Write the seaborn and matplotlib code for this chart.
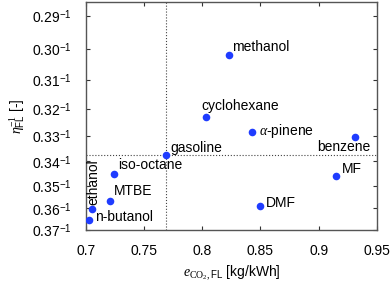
# Fuel efficiency vs CO2 emission scatter
import matplotlib
matplotlib.use("Agg")
import matplotlib.pyplot as plt
import seaborn as sns
import pandas as pd

# data
fuels = ["methanol", "cyclohexane", r"$\alpha$-pinene", "benzene", "gasoline",
         "iso-octane", "ethanol", "MTBE", "n-butanol", "MF", "DMF"]
co2_fl = [0.823, 0.803, 0.843, 0.931, 0.769, 0.724, 0.705, 0.721, 0.703, 0.915, 0.850]
eta_fl = [0.302, 0.323, 0.3285, 0.3305, 0.3375, 0.345, 0.3604, 0.3568, 0.3652, 0.346, 0.359]
eta_ticks = [0.29, 0.30, 0.31, 0.32, 0.33, 0.34, 0.35, 0.36, 0.37]
x_ticks = [0.7, 0.75, 0.8, 0.85, 0.9, 0.95]
x_tick_labels = ["0.7", "0.75", "0.8", "0.85", "0.9", "0.95"]

df = pd.DataFrame({"fuel": fuels, "co2": co2_fl, "eta": eta_fl})
df["inv_eta"] = 1.0 / df["eta"]

# label placement: (dx, dy) in points, ha, va, rotation
label_style = {
    "methanol": ((2, 1), "left", "bottom", 0),
    "cyclohexane": ((-3, 3), "left", "bottom", 0),
    r"$\alpha$-pinene": ((5, 1), "left", "center", 0),
    "benzene": ((11, -2), "right", "top", 0),
    "gasoline": ((3, 0), "left", "bottom", 0),
    "iso-octane": ((3, 1), "left", "bottom", 0),
    "ethanol": ((1, 3), "center", "bottom", 90),
    "MTBE": ((3, 2), "left", "bottom", 0),
    "n-butanol": ((4, 2), "left", "center", 0),
    "MF": ((4, 0), "left", "bottom", 0),
    "DMF": ((4, 2), "left", "center", 0),
}

sns.set_style("ticks")
plt.rcParams["font.family"] = ["Liberation Sans", "DejaVu Sans"]
plt.rcParams["mathtext.fontset"] = "custom"
plt.rcParams["mathtext.rm"] = "Liberation Serif"
plt.rcParams["mathtext.it"] = "Liberation Serif:italic"
plt.rcParams["mathtext.sf"] = "Liberation Sans"
plt.rcParams["font.size"] = 10
for key in ["text.color", "axes.labelcolor", "xtick.labelcolor", "ytick.labelcolor"]:
    plt.rcParams[key] = "black"

fig = plt.figure(figsize=(3.92, 2.83), dpi=100)
ax = fig.add_axes([0.2186, 0.1873, 0.7431, 0.8057])

sns.scatterplot(x="co2", y="inv_eta", data=df, color="#1f3cff", s=30,
                linewidth=0, ax=ax, zorder=3)

gas = df[df["fuel"] == "gasoline"].iloc[0]
ax.axvline(gas["co2"], ls=":", color="#444444", lw=0.8, zorder=1)
ax.axhline(gas["inv_eta"], ls=":", color="#444444", lw=0.8, zorder=1)

for _, row in df.iterrows():
    (dx, dy), ha, va, rot = label_style[row["fuel"]]
    ax.annotate(row["fuel"], (row["co2"], row["inv_eta"]), xytext=(dx, dy),
                textcoords="offset points", ha=ha, va=va, rotation=rot,
                fontsize=10, color="black")

ax.set_xlim(0.7, 0.95)
ax.set_ylim(1 / 0.37, 1 / 0.286)
ax.set_xticks(x_ticks)
ax.set_xticklabels(x_tick_labels)
ax.set_yticks([1 / t for t in eta_ticks])
ax.set_yticklabels([f"{t:.2f}" + r"$^{\mathsf{-1}}$" for t in eta_ticks])
ax.tick_params(direction="in", top=True, right=True, length=3, width=0.8,
               labelsize=10, color="#333333", labelcolor="black")
ax.tick_params(axis="y", pad=10)
ax.tick_params(axis="x", pad=10)
for sp in ax.spines.values():
    sp.set_color("#555555")
    sp.set_linewidth(1)

ax.set_xlabel(r"$e_{\mathrm{CO_2},\mathsf{FL}}$ [kg/kWh]", fontsize=10, labelpad=4)
ax.set_ylabel(r"$\eta_{\mathsf{FL}}^{-1}$ [-]", fontsize=10, labelpad=4)

fig.savefig("out.png", dpi=100)
